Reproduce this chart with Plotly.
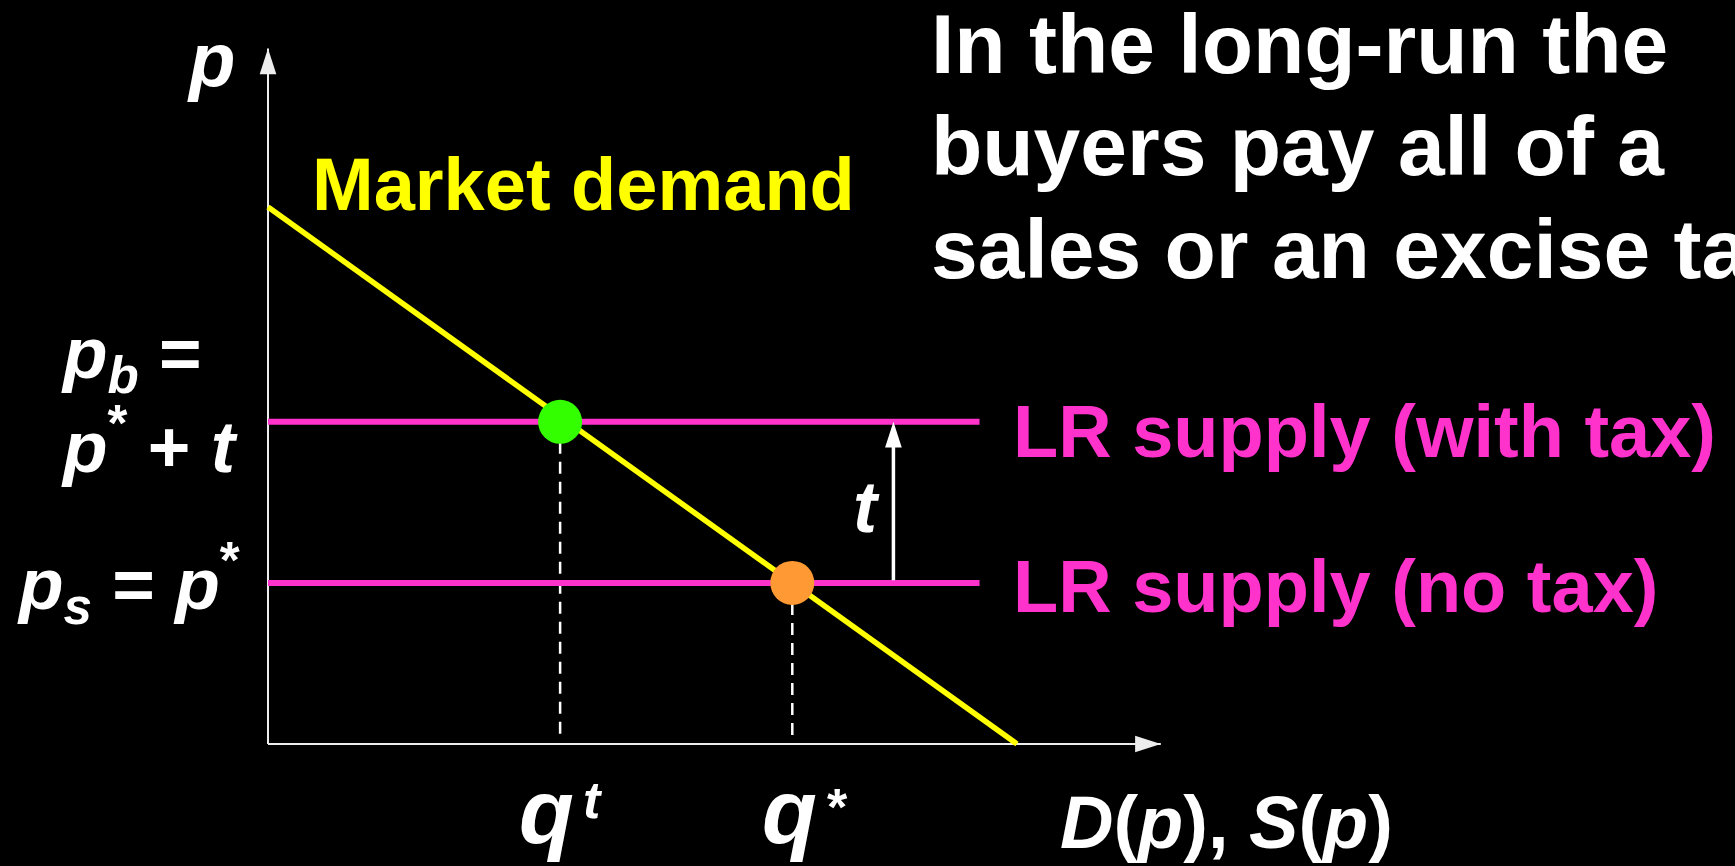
import plotly.graph_objects as go

# ---------------- data (economic units) ----------------
demand_q = [0, 10]          # market demand line: quantity
demand_p = [10, 0]          # market demand line: price
p_star = 3.0                # LR supply price, no tax (p_s = p*)
tax = 3.0                   # tax t
p_b = p_star + tax          # buyers' price with tax
q_t = 3.9                   # quantity with tax
q_star = 7.0                # quantity without tax
supply_q = [0, 9.5]         # extent of the LR supply lines
axis_q_max = 11.92          # x-axis arrow tip
axis_p_max = 12.95          # y-axis arrow tip
tax_arrow_q = 8.35          # position of the t arrow

title_lines = ["In the long-run the", "buyers pay all of a", "sales or an excise tax"]
demand_label = "Market demand"
supply_labels = ["LR supply (with tax)", "LR supply (no tax)"]
price_labels = ["<i>p</i><sub><i>b</i></sub> =", "<i>p</i><sup>*</sup> + <i>t</i>",
                "<i>p</i><sub><i>s</i></sub> = <i>p</i><sup>*</sup>"]
quantity_labels = ["<i>q</i>", "<i>q</i>"]
quantity_sups = ["<i>t</i>", "*"]
x_axis_title = "<i>D</i>(<i>p</i>), <i>S</i>(<i>p</i>)"
y_axis_title = "<i>p</i>"
tax_label = "<i>t</i>"

# ---------------- layout geometry ----------------
W, H = 1735, 866
X0, Y0 = 268, 744          # pixel position of the origin
SX, SY = 74.9, 53.7        # pixels per unit


def qx(px):
    return (px - X0) / SX


def py(pyv):
    return (Y0 - pyv) / SY


FONT = "Liberation Sans, Arial, Helvetica, sans-serif"
MAGENTA = "#FF33CC"
YELLOW = "#FFFF00"
WHITE = "#FFFFFF"
AX_COLOR = "#EDEDED"
ARROW_SIZE = 27

fig = go.Figure()

# axes
fig.add_trace(go.Scatter(x=[0, axis_q_max], y=[0, 0], mode="lines",
                         line=dict(color=AX_COLOR, width=2), hoverinfo="skip"))
fig.add_trace(go.Scatter(x=[0, 0], y=[0, axis_p_max], mode="lines",
                         line=dict(color=AX_COLOR, width=2), hoverinfo="skip"))

# dashed drop lines
for qv, pv in [(q_t, p_b), (q_star, p_star)]:
    fig.add_trace(go.Scatter(x=[qv, qv], y=[pv, 0.12], mode="lines",
                             line=dict(color=WHITE, width=2.5, dash="12px,8px"),
                             hoverinfo="skip"))

# LR supply lines
for pv in [p_b, p_star]:
    fig.add_trace(go.Scatter(x=supply_q, y=[pv, pv], mode="lines",
                             line=dict(color=MAGENTA, width=6), hoverinfo="skip"))

# tax arrow shaft
fig.add_trace(go.Scatter(x=[tax_arrow_q, tax_arrow_q], y=[p_star + 0.05, p_b - 0.3], mode="lines",
                         line=dict(color=WHITE, width=3.5), hoverinfo="skip"))

# demand
fig.add_trace(go.Scatter(x=demand_q, y=demand_p, mode="lines",
                         line=dict(color=YELLOW, width=5.5), hoverinfo="skip"))

# arrow heads (axes and tax)
fig.add_trace(go.Scatter(x=[axis_q_max, 0, tax_arrow_q], y=[0, axis_p_max, p_b], mode="markers",
                         marker=dict(symbol="arrow", size=ARROW_SIZE, angle=[90, 0, 0],
                                     color=[AX_COLOR, AX_COLOR, WHITE], line=dict(width=0)),
                         hoverinfo="skip"))

# equilibrium dots
fig.add_trace(go.Scatter(x=[q_t, q_star], y=[p_b, p_star], mode="markers",
                         marker=dict(size=44, color=["#33FF00", "#FF9933"], line=dict(width=0)),
                         hoverinfo="skip"))

annotations = []


def label(text, px, pyv, size, color=WHITE, xanchor="left"):
    annotations.append(dict(x=qx(px), y=py(pyv), xref="x", yref="y", text=text,
                            showarrow=False, xanchor=xanchor, yanchor="middle",
                            font=dict(family=FONT, size=size, color=color, weight="bold")))


# title (three lines)
for line, base in zip(title_lines, [73, 175, 278]):
    label(line, 929, base - 29, 84)

label(demand_label, 310, 184, 74, YELLOW)
label(supply_labels[0], 1011, 431, 74, MAGENTA)
label(supply_labels[1], 1011, 586, 74, MAGENTA)
label(x_axis_title, 1058, 822, 74)
label(y_axis_title, 211, 59, 76, xanchor="center")
label(tax_label, 866, 507, 72, xanchor="center")

label(price_labels[0], 59, 358, 73)
label(price_labels[1], 59, 441, 73)
label(price_labels[2], 15, 583, 73)

label(quantity_labels[0], 517, 812, 90)
label(quantity_labels[1], 760, 812, 90)
label(quantity_sups[0], 581, 800, 52)
label(quantity_sups[1], 825, 807, 52)

fig.update_layout(
    width=W, height=H, autosize=False,
    margin=dict(l=0, r=0, t=0, b=0, pad=0),
    paper_bgcolor="black", plot_bgcolor="black",
    showlegend=False, hovermode=False,
    xaxis=dict(range=[qx(0), qx(W)], visible=False, fixedrange=True),
    yaxis=dict(range=[py(H), py(0)], visible=False, fixedrange=True),
    annotations=annotations,
)

fig.write_html(
    "out.html",
    config={"displayModeBar": False},
    post_script="document.body.style.margin='0';document.body.style.background='black';"
                "document.body.style.overflow='hidden';",
)
